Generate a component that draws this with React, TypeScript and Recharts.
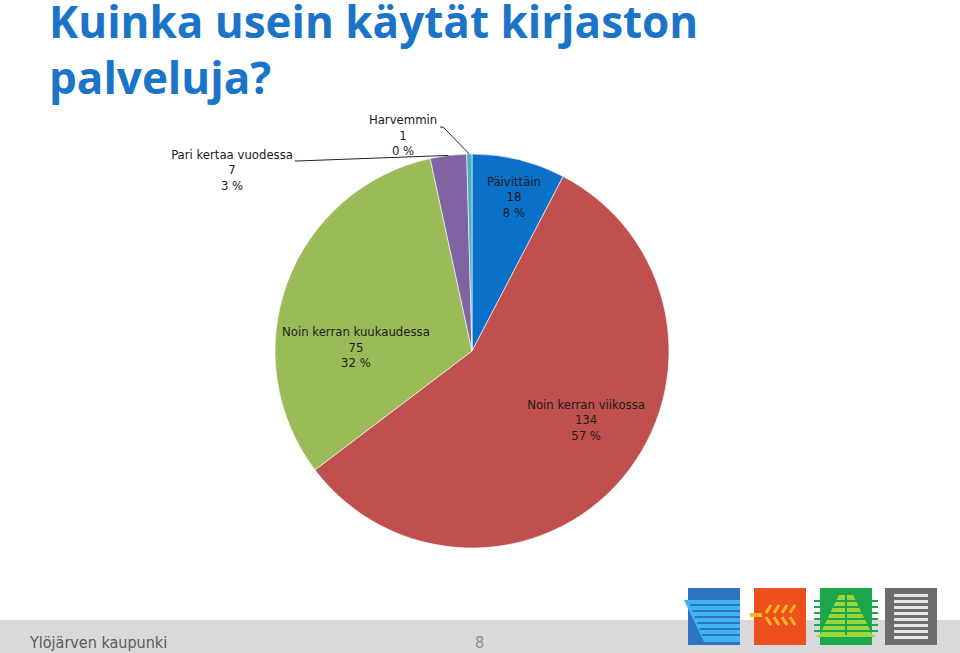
import { PieChart, Pie, Cell } from 'recharts'

const CATEGORIES = [
  'Päivittäin',
  'Noin kerran viikossa',
  'Noin kerran kuukaudessa',
  'Pari kertaa vuodessa',
  'Harvemmin',
]
const COUNTS = [18, 134, 75, 7, 1]
const COLORS = ['#0a70c8', '#c0504d', '#9bbb59', '#8064a2', '#4bacc6']
const TITLE_LINES = ['Kuinka usein käytät kirjaston', 'palveluja?']

// label placement, in units of the pie radius from its centre; leader = start of the leader line from label centre (px)
const LABEL_LAYOUT: Record<string, { dx: number; dy: number; leader?: [number, number] }> = {
  'Päivittäin': { dx: 0.213, dy: -0.782 },
  'Noin kerran viikossa': { dx: 0.579, dy: 0.35 },
  'Noin kerran kuukaudessa': { dx: -0.589, dy: -0.02 },
  'Pari kertaa vuodessa': { dx: -1.218, dy: -0.919, leader: [63, -9] },
  'Harvemmin': { dx: -0.35, dy: -1.096, leader: [37, -8] },
}

const total = COUNTS.reduce((s, v) => s + v, 0)
const chartData = CATEGORIES.map((name, i) => ({ name, value: COUNTS[i] }))

const FONT = '"DejaVu Sans Condensed", "DejaVu Sans", sans-serif'

function renderLabel(props: any) {
  const { cx, cy, outerRadius, midAngle, name, value } = props
  const lay = LABEL_LAYOUT[name]
  const x = cx + lay.dx * outerRadius
  const y = cy + lay.dy * outerRadius
  const pct = Math.round((value / total) * 100)
  const rad = (Math.PI / 180) * midAngle
  const ex = cx + outerRadius * Math.cos(rad)
  const ey = cy - outerRadius * Math.sin(rad)
  return (
    <g>
      {lay.leader && (
        <polyline
          points={`${x + lay.leader[0]},${y + lay.leader[1]} ${x + lay.leader[0] + 3},${y + lay.leader[1]} ${ex},${ey}`}
          fill="none"
          stroke="#222"
          strokeWidth={1}
        />
      )}
      <text x={x} y={y} textAnchor="middle" fontFamily={FONT} fontSize={13} fill="#1b1b1b">
        <tspan x={x} dy={-15.5} dominantBaseline="central">{name}</tspan>
        <tspan x={x} dy={15.5} dominantBaseline="central">{value}</tspan>
        <tspan x={x} dy={15.5} dominantBaseline="central">{pct} %</tspan>
      </text>
    </g>
  )
}

function Logos() {
  return (
    <svg width={260} height={60} style={{ position: 'absolute', left: 684, top: 587 }}>
      {/* blue */}
      <rect x={4} y={1} width={52} height={57} fill="#2e73c4" />
      <polygon points="0,13 56,13 56,55 20,55" fill="#3fb4ec" />
      {[18, 24, 30, 36, 42, 48].map((yy) => (
        <line key={yy} x1={4 + (yy - 13) * 0.4} y1={yy} x2={56} y2={yy} stroke="#2e73c4" strokeWidth={2} />
      ))}
      {/* orange */}
      <rect x={70} y={1} width={52} height={57} fill="#ee4f1e" />
      {[82, 90, 98, 106].map((xx) => (
        <g key={xx}>
          <line x1={xx} y1={26} x2={xx + 5} y2={18} stroke="#f7b522" strokeWidth={3} />
          <line x1={xx} y1={30} x2={xx + 5} y2={38} stroke="#f7b522" strokeWidth={3} />
        </g>
      ))}
      <rect x={66} y={26} width={12} height={4} fill="#f7b522" />
      {/* green */}
      <rect x={136} y={1} width={52} height={57} fill="#1ea64a" />
      <polygon points="155,8 169,8 188,47 136,47" fill="#9bd63c" />
      <polygon points="136,47 188,47 192,50 132,50" fill="#9bd63c" />
      {[14, 20, 26, 32, 38, 44].map((yy) => (
        <line key={yy} x1={130} y1={yy} x2={194} y2={yy} stroke="#1ea64a" strokeWidth={2} />
      ))}
      <rect x={161} y={6} width={2} height={42} fill="#1ea64a" />
      {/* grey */}
      <rect x={201} y={1} width={52} height={57} fill="#6d6d6d" />
      {[7, 13, 19, 25, 31, 37, 43, 49].map((yy) => (
        <rect key={yy} x={210} y={yy} width={34} height={3} fill="#e6e6e6" />
      ))}
    </svg>
  )
}

export default function App() {
  return (
    <div
      style={{
        position: 'absolute',
        left: 0,
        top: 0,
        width: 960,
        height: 653,
        overflow: 'hidden',
        background: '#fff',
      }}
    >
      {TITLE_LINES.map((line, i) => (
        <div
          key={line}
          style={{
            position: 'absolute',
            left: 49,
            top: 3 + i * 56,
            fontFamily: '"Open Sans", sans-serif',
            fontWeight: 700,
            fontSize: 44,
            lineHeight: '36px',
            color: '#1a74c7',
            whiteSpace: 'nowrap',
          }}
        >
          {line}
        </div>
      ))}

      <div style={{ position: 'absolute', left: 0, top: 0 }}>
        <PieChart width={960} height={653} margin={{ top: 0, right: 0, bottom: 0, left: 0 }}>
          <Pie
            data={chartData}
            dataKey="value"
            nameKey="name"
            cx={472}
            cy={351}
            outerRadius={197}
            startAngle={90}
            endAngle={-270}
            stroke="#ffffff"
            strokeWidth={0.6}
            label={renderLabel}
            labelLine={false}
            isAnimationActive={false}
          >
            {chartData.map((d, i) => (
              <Cell key={d.name} fill={COLORS[i]} />
            ))}
          </Pie>
        </PieChart>
      </div>

      <div
        style={{
          position: 'absolute',
          left: 0,
          top: 620,
          width: 960,
          height: 33,
          background: '#d9d9d9',
        }}
      />
      <div
        style={{
          position: 'absolute',
          left: 30,
          top: 633,
          fontFamily: '"DejaVu Sans Condensed", sans-serif',
          fontSize: 16,
          color: '#595959',
        }}
      >
        Ylöjärven kaupunki
      </div>
      <div
        style={{
          position: 'absolute',
          left: 475,
          top: 633,
          fontFamily: '"DejaVu Sans Condensed", sans-serif',
          fontSize: 16,
          color: '#8c8c8c',
        }}
      >
        8
      </div>
      <Logos />
    </div>
  )
}
